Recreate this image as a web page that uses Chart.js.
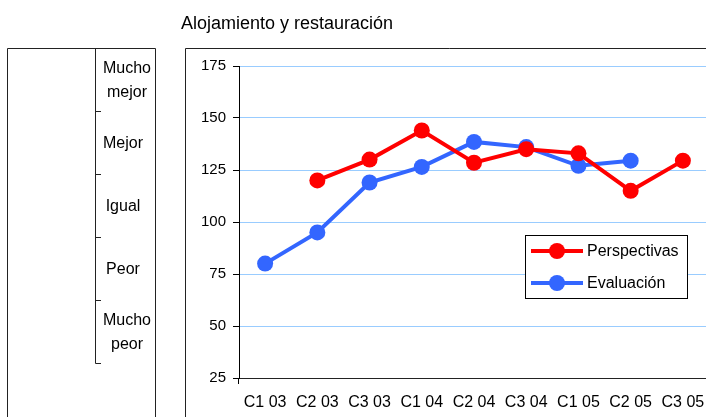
<!DOCTYPE html>
<html>
<head>
<meta charset="utf-8">
<script src="https://cdn.jsdelivr.net/npm/chart.js@4/dist/chart.umd.min.js"></script>
<style>
  html, body { margin: 0; padding: 0; overflow: hidden; background: #fff; width: 706px; height: 417px; }
  #wrap { position: absolute; left: 0; top: 0; width: 712px; height: 417px; }
  canvas { display: block; width: 712px; height: 417px; }
</style>
</head>
<body>
<div id="wrap"><canvas id="c" width="712" height="417"></canvas></div>
<script>
// ---- data ----
const titleText = 'Alojamiento y restauración';
const categories = ['C1 03','C2 03','C3 03','C1 04','C2 04','C3 04','C1 05','C2 05','C3 05'];
const perspectivas = [null, 120, 130, 144, 128.5, 135, 133, 115, 129.5];
const evaluacion = [80, 95, 119, 126.5, 138.5, 136, 127, 129.5, null];
const seriesNames = ['Perspectivas', 'Evaluación'];
const yTicks = [25, 50, 75, 100, 125, 150, 175];
const scaleLabels = [['Mucho', 'mejor'], ['Mejor'], ['Igual'], ['Peor'], ['Mucho', 'peor']];

const FONT = "'Liberation Sans', Arial, sans-serif";
const RED = '#ff0000';
const BLUE = '#3366ff';

const decorPlugin = {
  id: 'decor',
  beforeDraw(chart) {
    const ctx = chart.ctx;
    ctx.save();
    ctx.fillStyle = '#fff';
    ctx.fillRect(0, 0, chart.width, chart.height);
    ctx.strokeStyle = '#222';
    ctx.lineWidth = 1;
    // left panel frame
    ctx.beginPath();
    ctx.moveTo(7.5, 417); ctx.lineTo(7.5, 48.5); ctx.lineTo(155.5, 48.5); ctx.lineTo(155.5, 417);
    ctx.stroke();
    // inner scale line with ticks
    const segTop = 48, segH = 63;
    ctx.beginPath();
    ctx.moveTo(95.5, segTop); ctx.lineTo(95.5, segTop + segH * scaleLabels.length + 0.5);
    for (let i = 1; i <= scaleLabels.length; i++) {
      const yy = segTop + segH * i + 0.5;
      ctx.moveTo(95.5, yy); ctx.lineTo(101, yy);
    }
    ctx.stroke();
    // labels
    ctx.fillStyle = '#000';
    ctx.font = '16px ' + FONT;
    ctx.textAlign = 'center';
    ctx.textBaseline = 'middle';
    scaleLabels.forEach((lines, i) => {
      const cy = segTop + segH * i + segH / 2 + 1;
      const cx = lines.length > 1 ? 127 : 123;
      lines.forEach((t, j) => {
        const off = (j - (lines.length - 1) / 2) * 24;
        ctx.fillText(t, cx, cy + off);
      });
    });
    // right panel frame
    ctx.beginPath();
    ctx.moveTo(185.5, 417); ctx.lineTo(185.5, 48.5); ctx.lineTo(chart.width + 10, 48.5);
    ctx.stroke();
    // title
    ctx.textAlign = 'left';
    ctx.font = '18px ' + FONT;
    ctx.fillText(titleText, 181, 24);
    ctx.restore();
  },
  afterDraw(chart) {
    const ctx = chart.ctx;
    ctx.save();
    const bx = 525.5, by = 235.5, bw = 162, bh = 63;
    ctx.fillStyle = '#fff';
    ctx.fillRect(bx, by, bw, bh);
    ctx.strokeStyle = '#000';
    ctx.lineWidth = 1;
    ctx.strokeRect(bx, by, bw, bh);
    ctx.font = '16px ' + FONT;
    ctx.textAlign = 'left';
    ctx.textBaseline = 'middle';
    chart.data.datasets.forEach((ds, i) => {
      const yy = 251 + i * 32;
      ctx.strokeStyle = ds.borderColor;
      ctx.lineWidth = 4;
      ctx.beginPath();
      ctx.moveTo(531, yy); ctx.lineTo(583, yy);
      ctx.stroke();
      ctx.fillStyle = ds.borderColor;
      ctx.beginPath();
      ctx.arc(557, yy, 8, 0, Math.PI * 2);
      ctx.fill();
      ctx.fillStyle = '#000';
      ctx.fillText(ds.label, 587, yy + 1);
    });
    ctx.restore();
  }
};

new Chart(document.getElementById('c'), {
  type: 'line',
  data: {
    labels: categories,
    datasets: [
      { label: seriesNames[0], data: perspectivas, borderColor: RED, backgroundColor: RED,
        pointBackgroundColor: RED, pointBorderWidth: 0, pointRadius: 8, borderWidth: 4, tension: 0 },
      { label: seriesNames[1], data: evaluacion, borderColor: BLUE, backgroundColor: BLUE,
        pointBackgroundColor: BLUE, pointBorderWidth: 0, pointRadius: 8, borderWidth: 4, tension: 0 }
    ]
  },
  options: {
    responsive: false,
    devicePixelRatio: 1,
    animation: false,
    layout: { autoPadding: false, padding: { left: 185, top: 66, right: 3, bottom: 0 } },
    plugins: { legend: { display: false }, title: { display: false }, tooltip: { enabled: false } },
    scales: {
      x: {
        type: 'category',
        offset: true,
        grid: {
          display: true, offset: true, drawOnChartArea: false, drawTicks: true, tickLength: 6,
          color: c => c.index === 0 ? '#000' : 'rgba(0,0,0,0)',
          tickColor: c => c.index === 0 ? '#000' : 'rgba(0,0,0,0)'
        },
        border: { display: true, color: '#222', width: 1 },
        ticks: { color: '#000', font: { family: FONT, size: 16 }, padding: 9, maxRotation: 0, autoSkip: false },
        afterFit: s => { s.height = 39; s.paddingLeft = 0; s.paddingRight = 0; }
      },
      y: {
        min: 25, max: 175,
        afterBuildTicks: s => { s.ticks = yTicks.map(v => ({ value: v })); },
        grid: {
          color: c => (c.tick && c.tick.value === 25) ? 'rgba(0,0,0,0)' : '#99ccff',
          tickColor: '#000', tickLength: 6, lineWidth: 1
        },
        border: { display: true, color: '#000', width: 1 },
        ticks: { color: '#000', font: { family: FONT, size: 15 }, padding: 7 },
        afterFit: s => { s.width = 54; s.paddingTop = 0; s.paddingBottom = 0; }
      }
    }
  },
  plugins: [decorPlugin]
});
</script>
</body>
</html>
